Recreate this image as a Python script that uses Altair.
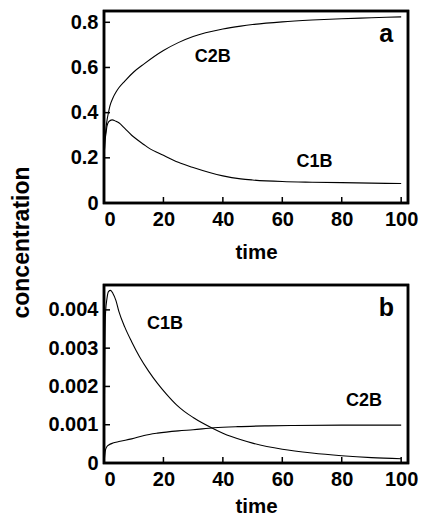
import altair as alt
import pandas as pd

# ---------------- panel a ----------------
a_c2b_t = [0, 0.25, 0.5, 1, 1.5, 2, 3, 4, 5, 7, 10, 13.5, 20, 25, 30, 40, 46, 50, 60, 70, 80, 90, 100]
a_c2b_v = [0.19, 0.26, 0.31, 0.365, 0.40, 0.43, 0.465, 0.49, 0.51, 0.54, 0.58, 0.616, 0.675, 0.71, 0.737,
           0.77, 0.783, 0.79, 0.802, 0.81, 0.816, 0.82, 0.824]
a_c1b_t = [0, 0.3, 0.7, 1, 1.6, 2.7, 4, 5, 7, 9.3, 13.5, 15, 20, 25, 30, 40, 46, 50, 60, 70, 80, 90, 100]
a_c1b_v = [0.19, 0.27, 0.31, 0.34, 0.36, 0.368, 0.362, 0.355, 0.33, 0.30, 0.258, 0.244, 0.211, 0.18,
           0.157, 0.12, 0.107, 0.102, 0.095, 0.092, 0.09, 0.088, 0.086]

# ---------------- panel b ----------------
b_c1b_t = [0, 0.2, 0.5, 1, 1.5, 2.2, 3, 4, 5, 7, 9.3, 12, 15, 18, 21, 24.4, 27, 30, 37, 40, 46.4, 50, 60, 70, 80, 90, 100]
b_c1b_v = [0, 0.0022, 0.0039, 0.0043, 0.00448, 0.00451, 0.00443, 0.00425, 0.00396, 0.00355, 0.00317,
           0.00277, 0.0024, 0.00208, 0.0018, 0.00152, 0.00135, 0.00119, 0.00089, 0.00078, 0.0006,
           0.00052, 0.00036, 0.00026, 0.00019, 0.00014, 0.00011]
b_c2b_t = [0, 0.25, 0.5, 1, 1.6, 3, 5, 9.3, 13.5, 18, 25, 30, 37, 45, 55, 63, 80, 100]
b_c2b_v = [0, 0.0002, 0.00034, 0.00043, 0.00047, 0.00052, 0.00056, 0.00063, 0.00072, 0.00078, 0.00084,
           0.00087, 0.00092, 0.00095, 0.00097, 0.00098, 0.00099, 0.00099]

x_ticks = [0, 20, 40, 60, 80, 100]
a_y_ticks = [0, 0.2, 0.4, 0.6, 0.8]
b_y_ticks = [0, 0.001, 0.002, 0.003, 0.004]

a_label_text = ["C2B", "C1B"]
a_label_t = [36.6, 70.8]
a_label_v = [0.648, 0.18]
b_label_text = ["C1B", "C2B"]
b_label_t = [20.5, 87.5]
b_label_v = [0.00362, 0.00163]

FONT = "Liberation Sans"
W = 304


def panel(t1, v1, t2, v2, ymax, yticks, yfmt, lab_t, lab_v, lab_text, letter, letter_v, H, ytitle, title_y):
    df = pd.concat([
        pd.DataFrame({"t": t1, "v": v1, "s": "C2B"}),
        pd.DataFrame({"t": t2, "v": v2, "s": "C1B"}),
    ])
    xs = alt.Scale(domain=[0, 102.3], nice=False, zero=False)
    ys = alt.Scale(domain=[0, ymax], nice=False)
    xaxis = alt.Axis(values=x_ticks, title="time", ticks=False, domain=False, grid=False,
                     labelFont=FONT, labelFontSize=20, labelFontWeight="bold", labelColor="black",
                     labelPadding=6, titleFont=FONT, titleFontSize=20.5, titleFontWeight="bold",
                     titleColor="black", titleBaseline="alphabetic", titleY=title_y)
    yargs = dict(values=yticks, ticks=False, domain=False, grid=False,
                 labelFont=FONT, labelFontSize=20, labelFontWeight="bold", labelColor="black",
                 labelPadding=6, labelExpr=yfmt, title=ytitle)
    if ytitle:
        yargs.update(titleFont=FONT, titleFontSize=23, titleFontWeight="bold", titleColor="black",
                     titleAngle=270, titleX=-83, titleY=231, titleAlign="center", titleBaseline="middle")
    yaxis = alt.Axis(**yargs)

    lines = alt.Chart(df).mark_line(color="black", strokeWidth=1.1, interpolate="monotone", clip=True).encode(
        x=alt.X("t:Q", scale=xs, axis=xaxis),
        y=alt.Y("v:Q", scale=ys, axis=yaxis),
        detail="s:N",
    )
    yt = alt.Chart(pd.DataFrame({"v": yticks})).mark_rule(color="black", strokeWidth=1.5).encode(
        y=alt.Y("v:Q", scale=ys), x=alt.value(0), x2=alt.value(6))
    xt = alt.Chart(pd.DataFrame({"t": x_ticks})).mark_rule(color="black", strokeWidth=1.5).encode(
        x=alt.X("t:Q", scale=xs), y=alt.value(H), y2=alt.value(H - 6))
    labs = alt.Chart(pd.DataFrame({"t": lab_t, "v": lab_v, "label": lab_text})).mark_text(
        font=FONT, fontSize=18, fontWeight="bold", color="black").encode(
        x=alt.X("t:Q", scale=xs), y=alt.Y("v:Q", scale=ys), text="label:N")
    let = alt.Chart(pd.DataFrame({"t": [95.0], "v": [letter_v], "label": [letter]})).mark_text(
        font=FONT, fontSize=25, fontWeight="bold", color="black").encode(
        x=alt.X("t:Q", scale=xs), y=alt.Y("v:Q", scale=ys), text="label:N")
    frame = alt.Chart(pd.DataFrame({"k": [0]})).mark_rect(
        fill="transparent", stroke="black", strokeWidth=2.5).encode(
        x=alt.value(0), x2=alt.value(W), y=alt.value(0), y2=alt.value(H))
    return alt.layer(lines, yt, xt, labs, let, frame).properties(width=W, height=H)


pa = panel(a_c2b_t, a_c2b_v, a_c1b_t, a_c1b_v, 0.85, a_y_ticks,
           "datum.value == 0 ? '0' : format(datum.value, '.1f')",
           a_label_t, a_label_v, a_label_text, "a", 0.75, 192, "concentration", 55)
pb = panel(b_c2b_t, b_c2b_v, b_c1b_t, b_c1b_v, 0.00465, b_y_ticks,
           "datum.value == 0 ? '0' : format(datum.value, '.3f')",
           b_label_t, b_label_v, b_label_text, "b", 0.00405, 178, "", 49)

inner = alt.vconcat(pa, pb, spacing=82, bounds="flush")
chart = alt.vconcat(inner).properties(background="white", padding=0).configure_view(
    stroke="black", strokeWidth=2.5)

chart.save("out.html", embed_options={"renderer": "svg", "actions": False})
